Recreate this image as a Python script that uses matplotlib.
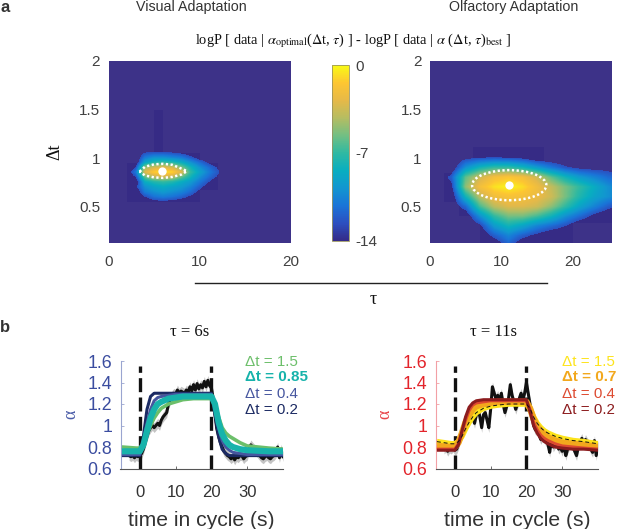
import numpy as np
import matplotlib
matplotlib.use("Agg")
import matplotlib.pyplot as plt
from matplotlib.colors import LinearSegmentedColormap, ListedColormap
from matplotlib.patches import Ellipse, Rectangle
from matplotlib.lines import Line2D

plt.rcParams['font.family'] = ['Liberation Sans', 'DejaVu Sans']
plt.rcParams['mathtext.fontset'] = 'stix'

W, H = 617, 529

# --------------------------------------
# Data: heat maps
# --------------------------------------

visual_tau = [2, 3, 4, 5, 6, 7, 8, 9, 10, 11, 12, 13]
visual_dt = [1.10, 1.05, 1.00, 0.95, 0.90, 0.85, 0.80, 0.75, 0.70, 0.65, 0.60, 0.55]
visual_logp = [
    [-14, -14, -14.0, -14.0, -14.0, -14.0, -14.0, -14.0, -14.0, -14.0, -14.0, -14],
    [-14, -14, -12.6, -12.4, -12.4, -12.6, -13.0, -13.5, -14.0, -14.0, -14.0, -14],
    [-14, -14, -11.0, -10.0, -10.0, -10.5, -11.0, -12.2, -13.5, -14.0, -14.0, -14],
    [-14, -14, -9.0, -7.5, -7.0, -7.5, -8.5, -10.0, -11.5, -13.0, -14.0, -14],
    [-14, -12.5, -5.0, -3.5, -3.0, -3.5, -5.5, -8.0, -10.0, -11.5, -12.8, -14],
    [-14, -11.0, -3.0, -1.2, -0.6, -1.0, -3.0, -7.0, -9.0, -10.8, -12.3, -14],
    [-14, -12.5, -6.0, -4.0, -3.5, -4.0, -6.0, -8.0, -10.0, -11.5, -12.8, -14],
    [-14, -14, -8.5, -7.5, -7.0, -7.5, -8.5, -9.5, -11.0, -12.5, -14.0, -14],
    [-14, -12.8, -10.0, -9.0, -8.5, -9.0, -9.5, -10.5, -12.0, -13.5, -14.0, -14],
    [-14, -14, -10.8, -10.0, -9.5, -10.0, -10.5, -11.5, -13.0, -14.0, -14.0, -14],
    [-14, -14, -12.5, -11.2, -10.8, -11.2, -11.8, -12.8, -14.0, -14.0, -14.0, -14],
    [-14, -14, -14.0, -13.0, -12.8, -13.0, -13.5, -14.0, -14.0, -14.0, -14.0, -14],
]
visual_blocks_tau = [(2, 10), (4, 10), (5, 6), (10, 12)]
visual_blocks_dt = [(0.55, 0.95), (0.65, 1.05), (1.0, 1.5), (0.67, 0.95)]
visual_best = (5.9, 0.866)
visual_ring_tau = [3.4, 4, 5, 6, 7, 8, 8.6, 8, 7, 6, 5, 4, 3.4]
visual_ring_dt = [0.86, 0.91, 0.935, 0.94, 0.93, 0.89, 0.865, 0.83, 0.805, 0.795, 0.80, 0.82, 0.86]

olf_tau = [1, 3, 5, 7, 9, 11, 13, 15, 17, 19, 21, 23, 25, 27]
olf_dt = [1.1, 1.0, 0.9, 0.8, 0.7, 0.6, 0.5, 0.4, 0.3, 0.2, 0.1]
olf_logp = [
    [-14, -14, -14.0, -14.0, -14.0, -14.0, -14.0, -14.0, -14.0, -14.0, -14.0, -14.0, -14.0, -14],
    [-14, -14, -13.0, -12.6, -12.4, -12.6, -13.0, -14.0, -14.0, -14.0, -14.0, -14.0, -14.0, -14],
    [-14, -14, -10.0, -8.0, -7.0, -7.0, -8.0, -9.5, -11.0, -12.3, -13.0, -13.2, -13.2, -14],
    [-14, -12, -6.0, -3.5, -2.0, -1.5, -2.0, -3.5, -6.0, -8.0, -9.5, -10.5, -11.5, -12],
    [-14, -13, -5.0, -2.0, -0.7, -0.2, -0.8, -2.2, -3.8, -5.5, -7.0, -8.5, -10.0, -11],
    [-14, -14, -8.0, -4.0, -2.2, -1.8, -2.0, -2.5, -3.5, -5.5, -7.5, -9.0, -10.0, -11],
    [-14, -14, -11.5, -6.5, -4.0, -3.0, -3.0, -3.5, -5.0, -7.0, -9.0, -10.5, -12.0, -13],
    [-14, -14, -14.0, -10.0, -7.0, -5.5, -5.5, -6.5, -8.0, -10.0, -11.5, -13.0, -14.0, -14],
    [-14, -14, -14.0, -13.0, -9.5, -8.0, -9.0, -10.5, -11.5, -12.5, -14.0, -14.0, -14.0, -14],
    [-14, -14, -14.0, -14.0, -12.0, -10.5, -12.0, -13.0, -14.0, -14.0, -14.0, -14.0, -14.0, -14],
    [-14, -14, -14.0, -14.0, -14.0, -12.0, -14.0, -14.0, -14.0, -14.0, -14.0, -14.0, -14.0, -14],
]
olf_blocks_tau = [(6, 16), (2, 4), (4, 20), (7, 20), (20, 25.5), (20, 25.5)]
olf_blocks_dt = [(0.85, 1.11), (0.55, 0.85), (0.4, 0.6), (0.12, 0.4), (0.33, 0.5), (0.8, 0.85)]
olf_best = (11, 0.72)
olf_ring_center = (11.1, 0.72)
olf_ring_size = (10.4, 0.31)

# --------------------------------------
# Data: adaptation curves
# --------------------------------------

model_t = [-5, -1, 0, 1, 2, 3, 4, 5, 6, 8, 10, 12, 15, 18, 20, 21, 22, 23, 24, 25, 26, 28, 30, 33, 36, 40]

vis_15 = [.80, .79, .79, .83, .92, 1.0, 1.07, 1.12, 1.16, 1.20, 1.22, 1.24, 1.25, 1.25, 1.25, 1.2, 1.08, .98, .93, .90, .88, .84, .81, .80, .79, .78]
vis_085 = [.76, .76, .76, .82, .95, 1.07, 1.15, 1.2, 1.22, 1.25, 1.26, 1.27, 1.27, 1.27, 1.27, 1.2, 1.03, .92, .86, .82, .80, .78, .77, .765, .76, .76]
vis_04 = [.73, .73, .73, .85, 1.02, 1.15, 1.23, 1.26, 1.27, 1.28, 1.29, 1.29, 1.29, 1.29, 1.29, 1.15, .98, .86, .80, .77, .75, .74, .73, .73, .73, .73]
vis_02 = [.72, .72, .72, .90, 1.15, 1.27, 1.30, 1.30, 1.30, 1.30, 1.30, 1.30, 1.30, 1.30, 1.30, 1.10, .90, .78, .74, .72, .72, .72, .72, .72, .72, .72]

olf_15 = [.85, .83, .83, .85, .90, .97, 1.03, 1.08, 1.12, 1.16, 1.18, 1.19, 1.20, 1.20, 1.20, 1.16, 1.08, 1.02, .98, .95, .93, .90, .88, .86, .85, .83]
olf_07 = [.81, .80, .80, .84, .93, 1.03, 1.10, 1.15, 1.18, 1.20, 1.21, 1.22, 1.22, 1.22, 1.22, 1.16, 1.06, .99, .95, .92, .89, .86, .84, .83, .82, .80]
olf_04 = [.78, .78, .78, .83, .94, 1.05, 1.14, 1.19, 1.21, 1.22, 1.23, 1.23, 1.23, 1.23, 1.23, 1.15, 1.03, .96, .91, .88, .86, .83, .81, .80, .79, .78]
olf_02 = [.77, .77, .77, .82, .95, 1.08, 1.17, 1.21, 1.23, 1.24, 1.24, 1.24, 1.24, 1.24, 1.24, 1.13, 1.0, .93, .88, .85, .83, .80, .79, .78, .78, .77]

vis_measured = [.72, .71, .72, .70, .72, .71, .72,
                .74, .78, .84, .90, .95, .98, 1.0, .98, 1.0, 1.02, 1.0, 1.05, 1.08, 1.1, 1.12, 1.2,
                1.24, 1.28, 1.3, 1.29, 1.33, 1.3, 1.32, 1.31, 1.3, 1.33, 1.31, 1.36, 1.32, 1.38, 1.33, 1.39, 1.34, 1.38, 1.35, 1.41, 1.36, 1.42, 1.37, 1.35,
                1.25, 1.1, .97, .9, .84, .8, .76, .74, .72, .71, .69, .71, .68, .71, .7, .72,
                .72, .69, .71, .72, .78, .82, .8, .78, .76, .74, .72, .7, .69, .71, .72, .7, .69, .71, .72, .74, .8, .7, .78, .71]
olf_measured = [.78, .8, .76, .79, .78, .8, .77,
                .78, .82, .88, .95, 1.0, 1.05, 1.1, 1.14, 1.12, 1.08, 1.02, 1.1, 1.15, 1.08, .98, 1.1,
                1.12, 1.05, .98, 1.15, 1.36, 1.3, 1.25, 1.28, 1.22, 1.3, 1.2, 1.12, 1.18, 1.25, 1.38, 1.28, 1.22, 1.15, 1.2, 1.25, 1.3, 1.24, 1.3, 1.4,
                1.3, 1.2, 1.1, 1.0, .96, .95, .92, .87, .9, .88, .85, .83, .75, .88, .8, .83,
                .85, .78, .8, .76, .82, .72, .78, .82, .84, .8, .76, .72, .8, .85, .88, .82, .87, .84, .82, .78, .75, .86, .72, .82]
measured_t = np.linspace(-3, 40, len(vis_measured))

alpha_ticks = [0.6, 0.8, 1, 1.2, 1.4, 1.6]
alpha_labels = ['0.6', '0.8', '1', '1.2', '1.4', '1.6']
time_ticks = [0, 10, 20, 30]

vis_labels = ['Δt = 1.5', 'Δt = 0.85', 'Δt = 0.4', 'Δt = 0.2']
vis_colors = ['#6cbf6a', '#17b3ab', '#46569f', '#1b2a63']
olf_labels = ['Δt = 1.5', 'Δt = 0.7', 'Δt = 0.4', 'Δt = 0.2']
olf_colors = ['#fde41c', '#f2a81d', '#dd4a30', '#8c1c1e']

# --------------------------------------
# Colormap (parula, from the colorbar)
# --------------------------------------

parula = LinearSegmentedColormap.from_list('parula', [
    '#352a87', '#2c4fc0', '#1a74d8', '#1296d0', '#08aec0', '#2fb9a2',
    '#72bf83', '#b5bd62', '#e6b948', '#fdc632', '#f9fb15'], N=256)

# below about -12.5 the surface is left out so the flat background shows
heat_rgba = parula(np.arange(256))
heat_rgba[:27, 3] = 0
heat_cmap = ListedColormap(heat_rgba)

bg_color = '#3d3288'
block_color = '#362b85'


def px_axes(fig, left, top, right, bottom):
    return fig.add_axes([left / W, 1 - bottom / H, (right - left) / W, (bottom - top) / H])


def px_text(fig, x, y, s, **kw):
    kw.setdefault('ha', 'center')
    kw.setdefault('va', 'center')
    return fig.text(x / W, 1 - y / H, s, **kw)


def heat_panel(ax, tau, dt, logp, blocks_tau, blocks_dt, xmax, xticks):
    ax.set_facecolor(bg_color)
    for (x0, x1), (y0, y1) in zip(blocks_tau, blocks_dt):
        ax.add_patch(Rectangle((x0, y0), x1 - x0, y1 - y0, color=block_color, lw=0, zorder=1))
    dx = (tau[1] - tau[0]) / 2
    dy = (dt[0] - dt[1]) / 2
    ax.imshow(logp, cmap=heat_cmap, vmin=-14, vmax=0, aspect='auto', zorder=2,
              interpolation='bilinear', interpolation_stage='data',
              extent=(tau[0] - dx, tau[-1] + dx, dt[-1] - dy, dt[0] + dy))
    ax.set_xlim(0, xmax)
    ax.set_ylim(0.124, 2)
    ax.set_xticks(xticks)
    ax.set_yticks([0.5, 1, 1.5, 2])
    ax.set_yticklabels(['0.5', '1', '1.5', '2'])
    ax.tick_params(axis='y', length=0, labelsize=11, labelcolor='#404040', pad=6)
    ax.tick_params(axis='x', length=0, labelsize=11, labelcolor='#404040', pad=9)
    for s in ax.spines.values():
        s.set_visible(False)


def curve_panel(ax, measured, curves, colors, widths, order, tick_color, spine_color):
    measured = np.array(measured)
    ax.fill_between(measured_t, measured - 0.045, measured + 0.045, color='#c4c4c4', lw=0, zorder=1)
    ax.plot(measured_t, measured, color='#111111', lw=2.2, zorder=2)
    for t0 in [0, 20]:
        ax.plot([t0, t0], [0.6, 1.55], color='#111111', lw=2.4, ls=(0, (4.2, 1.6)), zorder=3)
    for i in order:
        ax.plot(model_t, curves[i], color=colors[i], lw=widths[i], zorder=4, solid_capstyle='butt')
    ax.set_xlim(-5.4, 40)
    ax.set_ylim(0.6, 1.6)
    ax.set_xticks(time_ticks)
    ax.set_yticks(alpha_ticks)
    ax.set_yticklabels(alpha_labels)
    ax.tick_params(axis='x', direction='in', length=2, width=0.6, color='#555555',
                   labelsize=12, labelcolor='#333333', pad=12)
    ax.tick_params(axis='y', direction='in', length=2, width=0.6, color=spine_color,
                   labelsize=12.8, labelcolor=tick_color, pad=6)
    ax.spines['top'].set_visible(False)
    ax.spines['right'].set_visible(False)
    ax.spines['left'].set_color(spine_color)
    ax.spines['bottom'].set_color('#555555')
    ax.spines['left'].set_linewidth(0.8)
    ax.spines['bottom'].set_linewidth(0.8)
    ax.set_facecolor('none')
    ax.set_xlabel('time in cycle (s)', fontsize=15.2, color='#333333', labelpad=8)


# --------------------------------------
# Figure
# --------------------------------------

fig = plt.figure(figsize=(W / 100, H / 100), dpi=100)

# panel a
ax1 = px_axes(fig, 108.5, 61, 291, 243)
heat_panel(ax1, visual_tau, visual_dt, visual_logp, visual_blocks_tau, visual_blocks_dt, 20, [0, 10, 20])
ax1.plot(visual_ring_tau, visual_ring_dt, color='white', lw=1.8, ls=(0, (0.9, 1.0)), zorder=3)
ax1.plot(*visual_best, 'o', color='white', ms=6, mew=0, zorder=3)

ax2 = px_axes(fig, 430, 61, 612, 243)
heat_panel(ax2, olf_tau, olf_dt, olf_logp, olf_blocks_tau, olf_blocks_dt, 25.5, [0, 10, 20])
ax2.add_patch(Ellipse(olf_ring_center, *olf_ring_size, fill=False, ec='white', lw=1.8, ls=(0, (0.9, 1.0)), zorder=3))
ax2.plot(*olf_best, 'o', color='white', ms=6, mew=0, zorder=3)

cax = px_axes(fig, 331.5, 65, 348.5, 241)
sm = plt.cm.ScalarMappable(cmap=parula, norm=plt.Normalize(-14, 0))
cb = fig.colorbar(sm, cax=cax)
cb.set_ticks([-14, -7, 0])
cb.set_ticklabels(['-14', '-7', '0'])
cb.ax.tick_params(length=0, labelsize=11, labelcolor='#404040', pad=5)
cb.outline.set_edgecolor('#9a9560')
cb.outline.set_linewidth(0.6)

px_text(fig, 191, 7, 'Visual Adaptation', fontsize=10.3, color='#333333')
px_text(fig, 514, 7, 'Olfactory Adaptation', fontsize=10.3, color='#333333')
px_text(fig, 353.5, 41,
        r'logP [ data | $\alpha_{\rm optimal}$($\Delta$t, $\tau$) ] - logP [ data | $\alpha$ ($\Delta$t, $\tau$)$_{\rm best}$ ]',
        fontsize=10.4, family='Liberation Serif', color='#111111')
px_text(fig, 55, 152, 'Δt', fontsize=13, rotation=90, family='Liberation Serif', color='#111111')
px_text(fig, 373, 300, 'τ', fontsize=13, family='Liberation Serif', color='#111111')
fig.add_artist(Line2D([195 / W, 547 / W], [1 - 283 / H, 1 - 283 / H], color='#222222', lw=1))

px_text(fig, 5, 8, 'a', fontsize=12, fontweight='bold', color='#333333')
px_text(fig, 5, 327, 'b', fontsize=12, fontweight='bold', color='#333333')

# panel b
ax3 = px_axes(fig, 120.5, 361, 283, 468.5)
curve_panel(ax3, vis_measured, [vis_15, vis_085, vis_04, vis_02], vis_colors,
            [2.6, 4.4, 2.2, 2.2], [0, 3, 2, 1], '#3b4da0', '#9aa5d0')

ax4 = px_axes(fig, 435.5, 361, 598, 468.5)
curve_panel(ax4, olf_measured, [olf_15, olf_07, olf_04, olf_02], olf_colors,
            [4.0, 4.6, 2.2, 2.2], [0, 1, 2, 3], '#e3242b', '#f2a0a5')
ax4.plot(model_t, olf_15, color='#111111', lw=0.7, ls=(0, (4, 3)), zorder=5)

px_text(fig, 190, 332, 'τ = 6s', fontsize=12, family='Liberation Serif', color='#111111')
px_text(fig, 494, 332, 'τ = 11s', fontsize=12, family='Liberation Serif', color='#111111')
px_text(fig, 71, 414, 'α', fontsize=13, rotation=90, family='Liberation Serif', color='#4a5ca8')
px_text(fig, 385, 414, 'α', fontsize=13, rotation=90, family='Liberation Serif', color='#e8454a')

legend_y = [362, 377, 394, 410]
for lab, col, y, w in zip(vis_labels, vis_colors, legend_y, ['normal', 'bold', 'normal', 'normal']):
    px_text(fig, 245, y, lab, fontsize=10.9, color=col, fontweight=w, ha='left')
for lab, col, y, w in zip(olf_labels, olf_colors, legend_y, ['normal', 'bold', 'normal', 'normal']):
    px_text(fig, 562, y, lab, fontsize=10.9, color=col, fontweight=w, ha='left')

fig.savefig('out.png', dpi=100)
